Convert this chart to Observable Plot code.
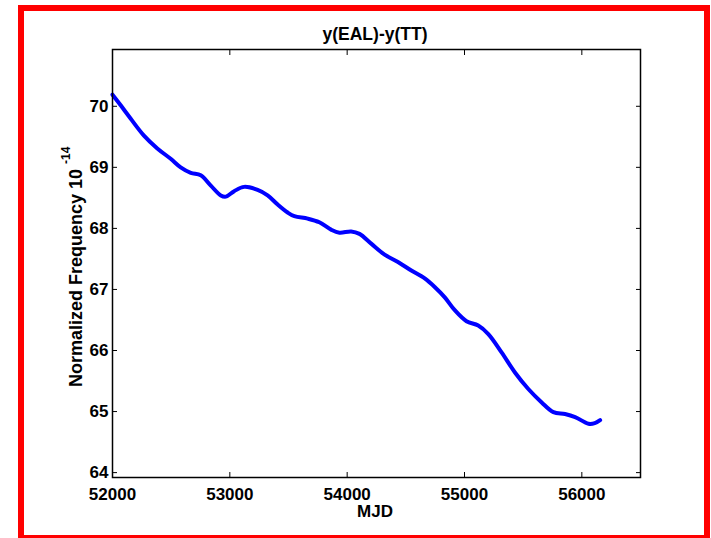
<!DOCTYPE html>
<html><head><meta charset="utf-8">
<script src="https://cdn.jsdelivr.net/npm/d3@7"></script>
<script src="https://cdn.jsdelivr.net/npm/@observablehq/plot@0.6"></script>
<style>
body{margin:0;background:#fff;}
#wrap{position:relative;width:711px;height:538px;overflow:hidden;background:#fff;}
#border{position:absolute;left:18px;top:5px;width:680px;height:524px;border:6px solid #ff0000;pointer-events:none;}
</style></head><body>
<div id="wrap"><div id="chart"></div><div id="border"></div></div>
<script>
const mjd = [52000,52068,52154,52268,52382,52496,52581,52667,52752,52838,52923,52966,53037,53122,53237,53322,53408,53493,53550,53664,53763,53863,53934,54034,54105,54205,54319,54433,54547,54661,54746,54832,54917,55017,55117,55203,55316,55430,55544,55658,55758,55857,55943,56057,56110,56156];
const freq = [70.19,70.02,69.80,69.52,69.31,69.14,69.00,68.91,68.87,68.70,68.54,68.52,68.61,68.68,68.63,68.54,68.39,68.26,68.20,68.16,68.10,67.98,67.93,67.95,67.91,67.75,67.57,67.45,67.31,67.18,67.04,66.87,66.66,66.48,66.41,66.27,65.97,65.64,65.37,65.15,64.99,64.96,64.91,64.80,64.81,64.86];
const xTicks = [52000,53000,54000,55000,56000];
const yTicks = [64,65,66,67,68,69,70];
const titleText = "y(EAL)-y(TT)";
const xLabel = "MJD";
const yLabel = "Normalized Frequency 10 ";
const yLabelExp = "-14";

const data = mjd.map((x, i) => ({x, y: freq[i]}));
const font = "'Liberation Sans', Arial, sans-serif";
const noText = () => "";
const intFmt = d3.format("d");

const plot = Plot.plot({
  width: 711, height: 538,
  marginLeft: 112, marginRight: 71, marginTop: 49, marginBottom: 61,
  style: {fontFamily: font, fontSize: "17px", fontWeight: "bold", color: "#000", background: "#fff"},
  x: {domain: [52000, 56500]},
  y: {domain: [63.92, 70.93]},
  marks: [
    Plot.line(data, {x: "x", y: "y", stroke: "#0000ff", strokeWidth: 4, curve: "catmull-rom"}),
    Plot.frame({stroke: "#000", strokeWidth: 1.5}),
    Plot.axisX(xTicks, {anchor: "bottom", tickSize: 0, tickPadding: 10, tickFormat: intFmt, label: null}),
    Plot.axisX(xTicks, {anchor: "bottom", tickSize: -5, tickFormat: noText, label: null}),
    Plot.axisX(xTicks, {anchor: "top", tickSize: -5, tickFormat: noText, label: null}),
    Plot.axisY(yTicks, {anchor: "left", tickSize: 0, tickPadding: 4, tickFormat: intFmt, label: null}),
    Plot.axisY(yTicks, {anchor: "left", tickSize: -5, tickFormat: noText, label: null}),
    Plot.axisY(yTicks, {anchor: "right", tickSize: -5, tickFormat: noText, label: null})
  ]
});

const svg = d3.select(plot);
svg.append("text")
  .attr("x", 375).attr("y", 40)
  .attr("text-anchor", "middle")
  .attr("font-family", font).attr("font-size", 17.5).attr("font-weight", "bold").attr("fill", "#000")
  .text(titleText);
svg.append("text")
  .attr("x", 375).attr("y", 517)
  .attr("text-anchor", "middle")
  .attr("font-family", font).attr("font-size", 17).attr("font-weight", "bold").attr("fill", "#000")
  .text(xLabel);
const yl = svg.append("text")
  .attr("transform", "translate(82,387) rotate(-90)")
  .attr("text-anchor", "start")
  .attr("font-family", font).attr("font-weight", "bold").attr("fill", "#000");
yl.append("tspan").attr("font-size", 18).text(yLabel);
yl.append("tspan").attr("font-size", 12).attr("dy", -12).text(yLabelExp);

document.getElementById("chart").appendChild(plot);
</script>
</body></html>
